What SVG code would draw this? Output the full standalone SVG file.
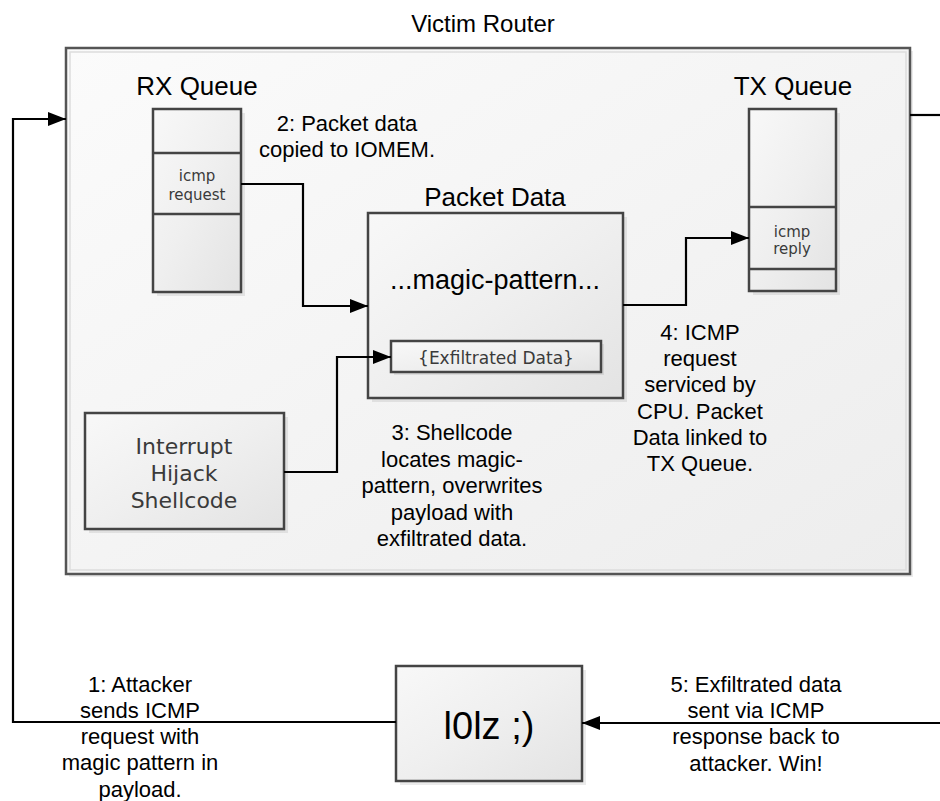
<svg xmlns="http://www.w3.org/2000/svg" width="940" height="801" viewBox="0 0 940 801">
<style>
.ann{font-family:"Liberation Sans",Arial,sans-serif;font-size:22px;fill:#000;text-anchor:middle}
.title{font-family:"Liberation Sans",Arial,sans-serif;fill:#000;text-anchor:middle}
.inner{font-family:"DejaVu Sans",Verdana,sans-serif;fill:#3a3a3a;text-anchor:middle}
.box{fill:url(#g);stroke:#444;stroke-width:2.5}
.shadow{fill:#000;opacity:0.08}
.conn{fill:none;stroke:#000;stroke-width:2.2}
</style>
<defs>
<linearGradient id="g" x1="0" y1="0" x2="1" y2="1">
<stop offset="0" stop-color="#f8f8f8"/>
<stop offset="0.5" stop-color="#efefef"/>
<stop offset="1" stop-color="#e3e3e3"/>
</linearGradient>
<linearGradient id="gbg" x1="0" y1="0" x2="1" y2="1">
<stop offset="0" stop-color="#fbfbfb"/>
<stop offset="1" stop-color="#ededed"/>
</linearGradient>
<marker id="ah" markerWidth="18" markerHeight="14" refX="18" refY="7" orient="auto" markerUnits="userSpaceOnUse">
<path d="M0,0 L18,7 L0,14 Z" fill="#000"/>
</marker>
</defs>
<rect width="940" height="801" fill="#fff"/>

<g id="victim-router">
<rect x="69" y="51" width="844" height="526" class="shadow"/>
<rect x="66" y="48" width="844" height="526" fill="url(#gbg)" stroke="#555" stroke-width="2.5"/>
<rect x="70" y="52" width="836" height="518" fill="none" stroke="#ddd" stroke-width="1.5"/>
<text x="483" y="32" class="title" font-size="24">Victim Router</text>
</g>

<g id="rx-queue">
<text x="197" y="95" class="title" font-size="26">RX Queue</text>
<rect x="157" y="113" width="88" height="183" class="shadow"/>
<rect x="153" y="109" width="88" height="183" class="box"/>
<line x1="153" y1="153" x2="241" y2="153" stroke="#444" stroke-width="2.5"/>
<line x1="153" y1="214" x2="241" y2="214" stroke="#444" stroke-width="2.5"/>
<text x="197" y="181" class="inner" font-size="15">icmp</text>
<text x="197" y="200" class="inner" font-size="15">request</text>
</g>

<g id="tx-queue">
<text x="793" y="95" class="title" font-size="26">TX Queue</text>
<rect x="753" y="113" width="87" height="182" class="shadow"/>
<rect x="749" y="109" width="87" height="182" class="box"/>
<line x1="749" y1="207" x2="836" y2="207" stroke="#444" stroke-width="2.5"/>
<line x1="749" y1="269" x2="836" y2="269" stroke="#444" stroke-width="2.5"/>
<text x="792" y="237" class="inner" font-size="15">icmp</text>
<text x="792" y="254" class="inner" font-size="15">reply</text>
</g>

<g id="packet-data">
<text x="495" y="206" class="title" font-size="26">Packet Data</text>
<rect x="372" y="217" width="255" height="185" class="shadow"/>
<rect x="368" y="213" width="255" height="185" class="box"/>
<text x="495" y="289" class="title" font-size="27">...magic-pattern...</text>
</g>

<g id="exfiltrated-data">
<rect x="394" y="344" width="210" height="31" class="shadow"/>
<rect x="391" y="341" width="210" height="31" class="box"/>
<text x="496" y="364" class="inner" font-size="17">{Exfiltrated Data}</text>
</g>

<g id="interrupt-hijack">
<rect x="89" y="417" width="199" height="116" class="shadow"/>
<rect x="85" y="413" width="199" height="116" class="box"/>
<text x="184" y="454" class="inner" font-size="22">Interrupt</text>
<text x="184" y="481" class="inner" font-size="22">Hijack</text>
<text x="184" y="508" class="inner" font-size="22">Shellcode</text>
</g>

<g id="attacker">
<rect x="400" y="670" width="186" height="115" class="shadow"/>
<rect x="396" y="666" width="186" height="115" class="box"/>
<text x="489" y="739" class="title" font-size="38" fill="#3a3a3a">l0lz ;)</text>
</g>

<g id="connectors">
<path d="M241,184 H303 V306 H368" class="conn" marker-end="url(#ah)"/>
<path d="M623,305 H686 V238 H749" class="conn" marker-end="url(#ah)"/>
<path d="M284,472 H337 V357 H391" class="conn" marker-end="url(#ah)"/>
<path d="M396,722 H13 V119 H66" class="conn" marker-end="url(#ah)"/>
<path d="M940,723 H582" class="conn" marker-end="url(#ah)"/>
<path d="M910,115 H940" class="conn"/>
</g>

<g id="labels">
<text class="ann"><tspan x="347" y="131">2: Packet data</tspan><tspan x="347" y="157">copied to IOMEM.</tspan></text>
<text class="ann"><tspan x="452" y="440">3: Shellcode</tspan><tspan x="452" y="467">locates magic-</tspan><tspan x="452" y="493">pattern, overwrites</tspan><tspan x="452" y="520">payload with</tspan><tspan x="452" y="546">exfiltrated data.</tspan></text>
<text class="ann"><tspan x="700" y="340">4: ICMP</tspan><tspan x="700" y="366">request</tspan><tspan x="700" y="392">serviced by</tspan><tspan x="700" y="419">CPU. Packet</tspan><tspan x="700" y="445">Data linked to</tspan><tspan x="700" y="471">TX Queue.</tspan></text>
<text class="ann"><tspan x="140" y="692">1: Attacker</tspan><tspan x="140" y="718">sends ICMP</tspan><tspan x="140" y="744">request with</tspan><tspan x="140" y="770">magic pattern in</tspan><tspan x="140" y="797">payload.</tspan></text>
<text class="ann"><tspan x="756" y="692">5: Exfiltrated data</tspan><tspan x="756" y="718">sent via ICMP</tspan><tspan x="756" y="744">response back to</tspan><tspan x="756" y="771">attacker. Win!</tspan></text>
</g>
</svg>
